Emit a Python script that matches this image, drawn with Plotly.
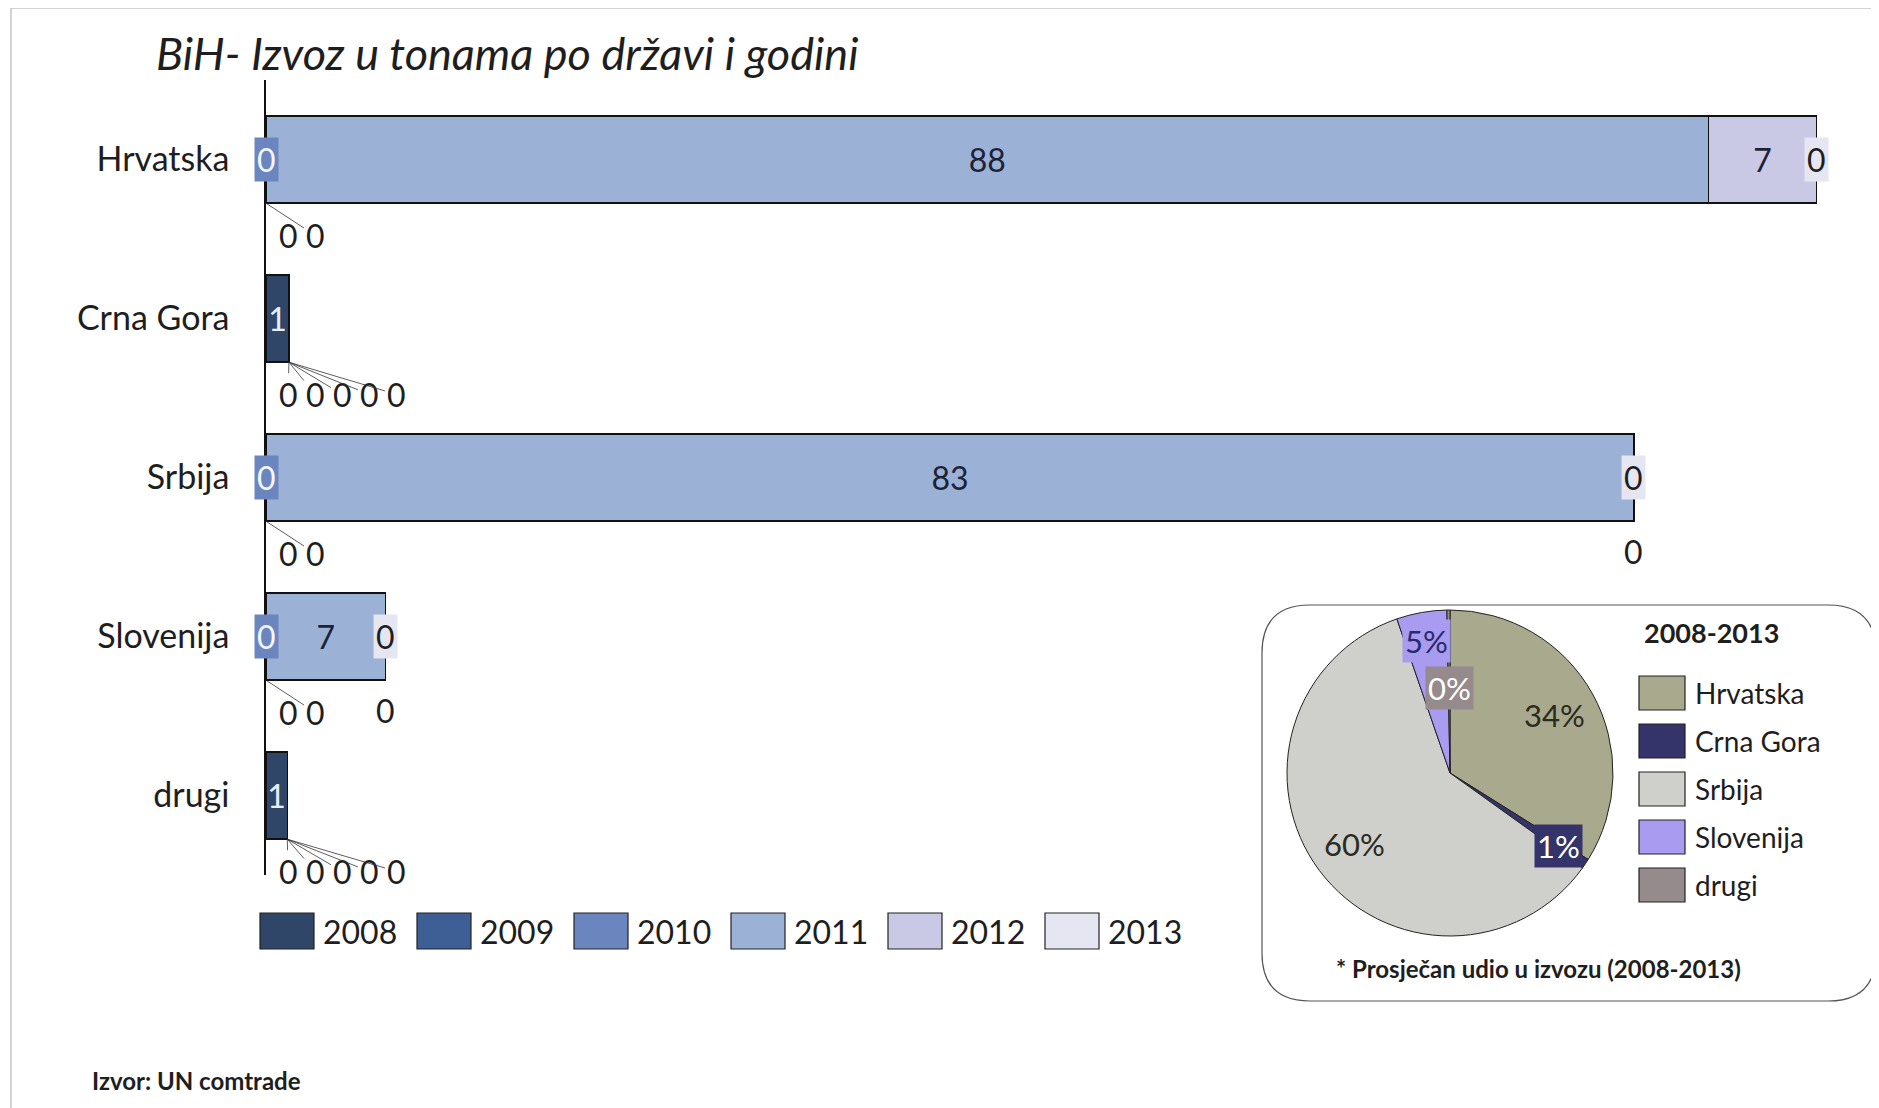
import math
import plotly.graph_objects as go

# ---------------- data ----------------
countries = ["Hrvatska", "Crna Gora", "Srbija", "Slovenija", "drugi"]
years = ["2008", "2009", "2010", "2011", "2012", "2013"]
v2008 = [0.0, 1.4, 0.0, 0.0, 1.3]
v2009 = [0.0, 0.0, 0.0, 0.0, 0.0]
v2010 = [0.0, 0.0, 0.0, 0.0, 0.0]
v2011 = [88.0, 0.0, 83.45, 7.3, 0.0]
v2012 = [6.6, 0.0, 0.0, 0.0, 0.0]
v2013 = [0.0, 0.0, 0.0, 0.0, 0.0]

pie_labels = ["Hrvatska", "Crna Gora", "Srbija", "Slovenija", "drugi"]
pie_values = [34.0, 1.0, 60.0, 5.0, 0.3]

title_text = "BiH- Izvoz u tonama po državi i godini"
pie_title = "2008-2013"
pie_note = "* Prosječan udio u izvozu (2008-2013)"
source_text = "Izvor: UN comtrade"

# ---------------- style ----------------
W, H = 1879, 1108
OFF = 8  # page body margin compensation
FONT = "Lato"
TXT = "#1e1e1e"
year_colors = ["#2f4668", "#3e5e96", "#6b86bf", "#9cb1d6", "#c9c9e6", "#e6e6f2"]
year_text_colors = ["#e8eef8", "#e8eef8", "#ffffff", "#1c2238", "#1c2238", "#1c2238"]
pie_colors = ["#a9a98e", "#34346a", "#cfd0cc", "#a99cf0", "#958a8c"]

X0PX, X1PX = 266, 1856
Y0PX, Y1PX = 80, 875
XMAX = 97
BAR_FRAC = 0.55
PXU = (X1PX - X0PX) / XMAX


def PX(x):
    return (x - OFF) / W


def PY(y):
    return 1 - (y - OFF) / H


series = [v2008, v2009, v2010, v2011, v2012, v2013]

fig = go.Figure()

for k, yr in enumerate(years):
    vals = series[k]
    txt = [f"{v:.0f}" if v >= 0.5 else "" for v in vals]
    fig.add_trace(go.Bar(
        y=countries, x=vals, orientation="h", name=yr,
        marker=dict(color=year_colors[k], line=dict(color="#111111", width=1.5)),
        text=txt, textposition="inside", insidetextanchor="middle", textangle=0,
        constraintext="none",
        insidetextfont=dict(family=FONT, size=32, color=year_text_colors[k]),
        showlegend=False, hoverinfo="x+y+name",
    ))

annotations = []
# zero-value data labels (placed around the bars, as in the original)
for i, c in enumerate(countries):
    vals = [s[i] for s in series]
    nz = [k for k, v in enumerate(vals) if v >= 0.5]
    first, last = nz[0], nz[-1]
    leading = list(range(0, first))
    trailing = list(range(last + 1, len(vals)))
    end = sum(vals)
    ybot = i + BAR_FRAC / 2
    below_left = []
    if leading:
        k = leading[-1]
        annotations.append(dict(
            x=0, y=i, xref="x", yref="y", text=f"{vals[k]:.0f}", showarrow=False,
            xanchor="center", yanchor="middle",
            bgcolor=year_colors[k], borderpad=2,
            font=dict(family=FONT, size=32, color="#f4f6fb")))
        below_left += [(k2, 0.0) for k2 in leading[:-1]]
    if trailing:
        if end * PXU > 60:
            k = trailing[0]
            annotations.append(dict(
                x=end, y=i, xref="x", yref="y", text=f"{vals[k]:.0f}", showarrow=False,
                xanchor="center", yanchor="middle",
                bgcolor=year_colors[-1], borderpad=2,
                font=dict(family=FONT, size=32, color=TXT)))
            for k2 in trailing[1:]:
                annotations.append(dict(
                    x=end, y=ybot, xref="x", yref="y", text=f"{vals[k2]:.0f}",
                    showarrow=False, yshift=-30, xanchor="center", yanchor="middle",
                    font=dict(family=FONT, size=32, color=TXT)))
        else:
            below_left += [(k2, end) for k2 in trailing]
    for j, (k2, cx) in enumerate(below_left):
        annotations.append(dict(
            x=cx, y=ybot, xref="x", yref="y", text=f"{vals[k2]:.0f}",
            showarrow=True, arrowhead=0, arrowwidth=0.8, arrowcolor="#333333",
            standoff=0, ax=22 + 27 * j - cx * PXU, ay=32,
            font=dict(family=FONT, size=32, color=TXT)))

# pie chart
PIE_CX, PIE_CY, PIE_R = 1450, 773, 163
fig.add_trace(go.Pie(
    labels=pie_labels, values=pie_values, sort=False, direction="clockwise",
    rotation=0, textinfo="none", showlegend=False,
    marker=dict(colors=pie_colors, line=dict(color="#222222", width=1)),
    domain=dict(x=[PX(PIE_CX - PIE_R), PX(PIE_CX + PIE_R)],
                y=[PY(PIE_CY + PIE_R), PY(PIE_CY - PIE_R)]),
))

total = sum(pie_values)
rfs = [0.73, 0.80, 0.73, 0.82, 0.52]
pie_txt_colors = ["#2b2b22", "#ffffff", "#2b2b22", "#2a2a6e", "#ffffff"]
boxed = [False, True, False, True, True]
cum = 0.0
for j, v in enumerate(pie_values):
    mid = (cum + v / 2) / total
    cum += v
    th = 2 * math.pi * mid
    r = rfs[j] * PIE_R
    xx = PIE_CX + r * math.sin(th)
    yy = PIE_CY - r * math.cos(th)
    annotations.append(dict(
        x=PX(xx), y=PY(yy), xref="paper", yref="paper", showarrow=False,
        xanchor="center", yanchor="middle",
        text=f"{round(v / total * 100):.0f}%",
        bgcolor=pie_colors[j] if boxed[j] else None, borderpad=2,
        font=dict(family=FONT, size=31, color=pie_txt_colors[j])))

shapes = []
# outer frame (left/top)
shapes.append(dict(type="line", xref="paper", yref="paper", x0=PX(11), x1=PX(11),
                   y0=PY(1116), y1=PY(8), line=dict(color="#c4c4c4", width=1.5)))
shapes.append(dict(type="line", xref="paper", yref="paper", x0=PX(11), x1=PX(1887),
                   y0=PY(8), y1=PY(8), line=dict(color="#c4c4c4", width=1.5)))

# rounded box around the pie
bx0, by0, bx1, by1, rad = 1262, 605, 1876, 1001, 48
rx, ry = rad / W, rad / H
X0, X1, Yt, Yb = PX(bx0), PX(bx1), PY(by0), PY(by1)
path = (f"M {X0 + rx},{Yt} L {X1 - rx},{Yt} Q {X1},{Yt} {X1},{Yt - ry} "
        f"L {X1},{Yb + ry} Q {X1},{Yb} {X1 - rx},{Yb} L {X0 + rx},{Yb} "
        f"Q {X0},{Yb} {X0},{Yb + ry} L {X0},{Yt - ry} Q {X0},{Yt} {X0 + rx},{Yt} Z")
shapes.append(dict(type="path", xref="paper", yref="paper", path=path,
                   line=dict(color="#555555", width=1.2), layer="below"))

# bar legend (manual, large swatches)
for k, yr in enumerate(years):
    sx = 260 + 157 * k
    shapes.append(dict(type="rect", xref="paper", yref="paper",
                       x0=PX(sx), x1=PX(sx + 54), y0=PY(949), y1=PY(913),
                       fillcolor=year_colors[k], line=dict(color="#222222", width=1.2)))
    annotations.append(dict(x=PX(sx + 61), y=PY(931), xref="paper", yref="paper",
                            xanchor="left", yanchor="middle", showarrow=False, text=yr,
                            font=dict(family=FONT, size=32, color=TXT)))

# pie legend
annotations.append(dict(x=PX(1711), y=PY(632), xref="paper", yref="paper",
                        xanchor="center", yanchor="middle",
                        showarrow=False, text=f"<b>{pie_title}</b>",
                        font=dict(family=FONT, size=27, color=TXT)))
for j, lab in enumerate(pie_labels):
    cy = 693 + 48 * j
    shapes.append(dict(type="rect", xref="paper", yref="paper",
                       x0=PX(1639), x1=PX(1685), y0=PY(cy + 17), y1=PY(cy - 17),
                       fillcolor=pie_colors[j], line=dict(color="#222222", width=1.2)))
    annotations.append(dict(x=PX(1693), y=PY(cy), xref="paper", yref="paper",
                            xanchor="left", yanchor="middle", showarrow=False, text=lab,
                            font=dict(family=FONT, size=28, color=TXT)))

annotations.append(dict(x=PX(1334), y=PY(968), xref="paper", yref="paper",
                        xanchor="left", yanchor="middle", showarrow=False,
                        text=f"<b>{pie_note}</b>",
                        font=dict(family=FONT, size=24, color=TXT)))
annotations.append(dict(x=PX(90), y=PY(1080), xref="paper", yref="paper",
                        xanchor="left", yanchor="middle", showarrow=False,
                        text=f"<b>{source_text}</b>",
                        font=dict(family=FONT, size=24, color=TXT)))

fig.update_layout(
    width=W, height=H, margin=dict(l=0, r=0, t=0, b=0),
    paper_bgcolor="white", plot_bgcolor="white",
    barmode="stack", bargap=1 - BAR_FRAC, showlegend=False,
    font=dict(family=FONT, color=TXT),
    title=dict(text=title_text, x=PX(156), xanchor="left", y=PY(54), yanchor="middle",
               font=dict(family=FONT, size=45, style="italic", color=TXT)),
    xaxis=dict(domain=[PX(X0PX), PX(X1PX)], range=[0, XMAX], visible=False),
    yaxis=dict(domain=[PY(Y1PX), PY(Y0PX)], type="category",
               categoryorder="array", categoryarray=countries, autorange="reversed",
               showline=True, linecolor="#111111", linewidth=1.5, ticks="",
               showgrid=False, zeroline=False, ticklabelstandoff=28,
               tickfont=dict(family=FONT, size=34, color=TXT)),
    annotations=annotations, shapes=shapes,
)

fig.write_html("out.html")
